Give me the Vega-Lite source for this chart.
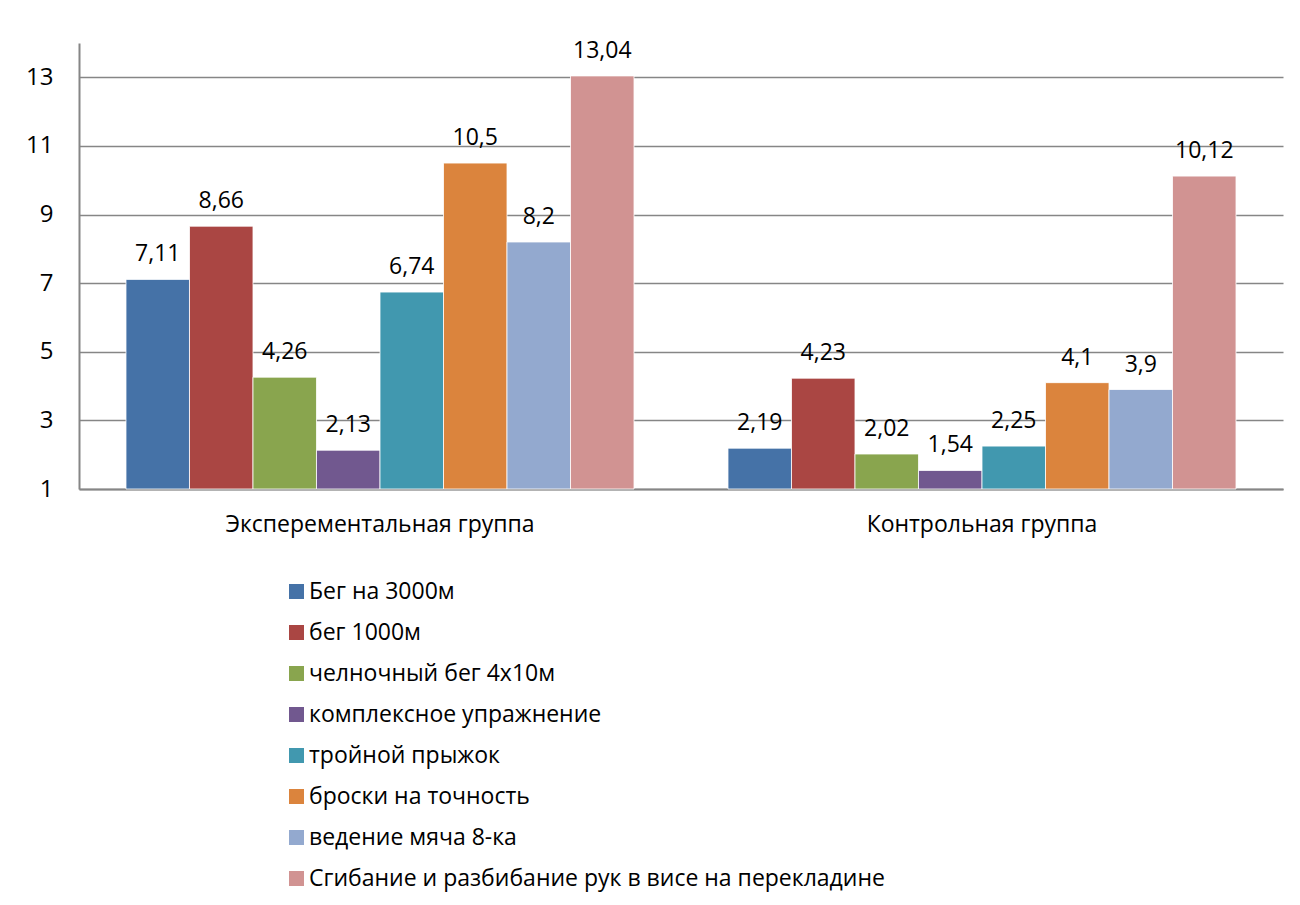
{
  "$schema": "https://vega.github.io/schema/vega-lite/v6.json",
  "width": 1204,
  "height": 446,
  "autosize": {"type": "none"},
  "padding": {"left": 79, "top": 43, "right": 17, "bottom": 416},
  "background": "white",
  "config": {
    "font": "Open Sans",
    "view": {"stroke": null},
    "locale": {"number": {"decimal": ",", "thousands": " ", "grouping": [3], "currency": ["", ""]}}
  },
  "data": {
    "values": [
      {"group": "Эксперементальная группа", "test": "Бег на 3000м", "value": 7.11},
      {"group": "Эксперементальная группа", "test": "бег 1000м", "value": 8.66},
      {"group": "Эксперементальная группа", "test": "челночный бег 4х10м", "value": 4.26},
      {"group": "Эксперементальная группа", "test": "комплексное упражнение", "value": 2.13},
      {"group": "Эксперементальная группа", "test": "тройной прыжок", "value": 6.74},
      {"group": "Эксперементальная группа", "test": "броски на точность", "value": 10.5},
      {"group": "Эксперементальная группа", "test": "ведение мяча 8-ка", "value": 8.2},
      {"group": "Эксперементальная группа", "test": "Сгибание и разбибание рук  в висе на перекладине", "value": 13.04},
      {"group": "Контрольная группа", "test": "Бег на 3000м", "value": 2.19},
      {"group": "Контрольная группа", "test": "бег 1000м", "value": 4.23},
      {"group": "Контрольная группа", "test": "челночный бег 4х10м", "value": 2.02},
      {"group": "Контрольная группа", "test": "комплексное упражнение", "value": 1.54},
      {"group": "Контрольная группа", "test": "тройной прыжок", "value": 2.25},
      {"group": "Контрольная группа", "test": "броски на точность", "value": 4.1},
      {"group": "Контрольная группа", "test": "ведение мяча 8-ка", "value": 3.9},
      {"group": "Контрольная группа", "test": "Сгибание и разбибание рук  в висе на перекладине", "value": 10.12}
    ]
  },
  "encoding": {
    "x": {
      "field": "group", "type": "nominal", "sort": null,
      "scale": {"paddingInner": 0, "paddingOuter": 0},
      "axis": {"title": null, "labelAngle": 0, "labelFontSize": 23, "labelColor": "#000000", "labelPadding": 24, "labelLimit": 0, "ticks": false, "domainColor": "#868686", "domainWidth": 2, "labelFont": "Open Sans"}
    },
    "xOffset": {
      "field": "test", "type": "nominal", "sort": null,
      "scale": {"paddingInner": 0, "paddingOuter": 0.74}
    },
    "y": {
      "field": "value", "type": "quantitative",
      "scale": {"domain": [1, 14], "zero": false, "nice": false},
      "axis": {"title": null, "values": [1, 3, 5, 7, 9, 11, 13], "labelFontSize": 24, "labelColor": "#000000", "labelPadding": 26, "ticks": false, "domainColor": "#868686", "domainWidth": 2, "gridColor": "#868686", "gridWidth": 1.5, "labelFont": "Open Sans"}
    }
  },
  "layer": [
    {
      "mark": {"type": "bar", "stroke": "white", "strokeWidth": 0.8},
      "encoding": {
        "y2": {"datum": 1},
        "color": {
          "field": "test", "type": "nominal", "sort": null,
          "scale": {
            "domain": ["Бег на 3000м", "бег 1000м", "челночный бег 4х10м", "комплексное упражнение", "тройной прыжок", "броски на точность", "ведение мяча 8-ка", "Сгибание и разбибание рук  в висе на перекладине"],
            "range": ["#4572A7", "#AA4643", "#89A54E", "#71588F", "#4198AF", "#DB843D", "#93A9CF", "#D19392"]
          },
          "legend": {
            "title": null, "orient": "none", "legendX": 206, "legendY": 537,
            "direction": "vertical", "symbolType": "square", "symbolSize": 225,
            "symbolStrokeWidth": 0, "labelFontSize": 23, "labelColor": "#000000",
            "labelFont": "Open Sans", "rowPadding": 17, "labelOffset": 1, "padding": 0, "labelLimit": 900
          }
        }
      }
    },
    {
      "mark": {"type": "text", "baseline": "bottom", "dy": -13, "fontSize": 23, "color": "#000000", "font": "Open Sans"},
      "encoding": {
        "text": {"field": "value", "type": "quantitative", "format": ".2~f"}
      }
    }
  ]
}
